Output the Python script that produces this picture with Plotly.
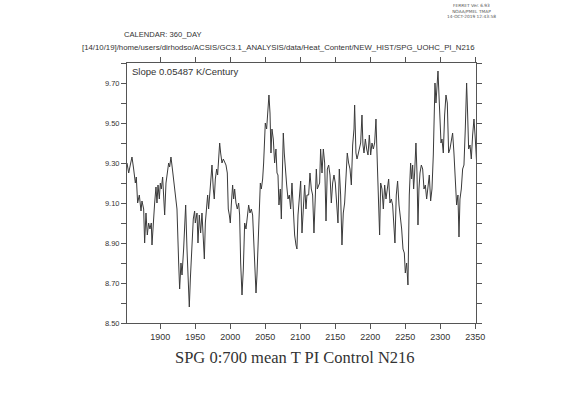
import plotly.graph_objects as go

years = [1852.4, 1854.8, 1857.1, 1859.5, 1861.9, 1864.3, 1865.7, 1867.6, 1870.0, 1872.4,
         1873.8, 1876.2, 1877.6, 1879.5, 1881.4, 1883.3, 1885.2, 1887.1, 1888.1, 1890.5,
         1891.9, 1893.8, 1895.2, 1896.7, 1898.6, 1900.0, 1901.4, 1903.3, 1904.8, 1906.2,
         1908.1, 1909.5, 1911.9, 1913.3, 1915.2, 1917.6, 1919.5, 1921.4, 1923.8, 1926.2,
         1927.6, 1929.5, 1931.0, 1933.3, 1934.8, 1936.2, 1938.1, 1940.0, 1941.4, 1942.9,
         1945.2, 1947.1, 1949.0,
         1950.0, 1952.4, 1953.8, 1955.7, 1957.6, 1959.5, 1961.4, 1962.9, 1964.3, 1966.2,
         1967.6, 1969.0, 1971.0, 1972.4, 1973.8, 1975.7, 1977.1, 1978.6, 1980.5, 1981.9,
         1983.3, 1984.8, 1986.2, 1988.1, 1990.0, 1991.9, 1993.8, 1995.7, 1997.1, 1998.6,
         2000.0, 2001.4, 2003.3, 2004.8, 2006.2, 2008.1, 2010.0, 2011.9, 2013.3, 2014.8,
         2016.7, 2018.6, 2020.5, 2022.4, 2024.3, 2026.2, 2028.1, 2030.0, 2031.9, 2033.3,
         2034.8, 2036.7, 2038.1, 2039.5, 2041.4, 2042.9, 2044.3, 2046.2, 2047.6, 2049.0,
         2050.0, 2051.9, 2053.8, 2055.2, 2056.7, 2058.1, 2059.5, 2061.4, 2063.3, 2065.2,
         2066.7, 2068.1, 2069.5, 2071.4, 2072.9, 2074.3, 2075.7, 2077.1, 2078.6, 2080.5,
         2082.4, 2084.3, 2086.2, 2088.1, 2090.0, 2091.9, 2093.8, 2095.2, 2096.7, 2098.6,
         2100.5, 2102.4, 2104.3, 2106.2, 2108.1, 2109.5, 2111.9, 2113.8, 2115.7, 2117.6,
         2119.5, 2121.4, 2122.9, 2124.3, 2126.2, 2127.6, 2129.0, 2131.0, 2132.9, 2134.8,
         2136.7, 2138.6, 2140.5, 2142.4, 2144.3, 2146.2, 2148.1,
         2150.0, 2151.9, 2153.8, 2155.7, 2157.6, 2159.5, 2161.4, 2163.3, 2165.2, 2167.1,
         2169.0, 2171.0, 2172.9, 2174.8, 2176.7, 2177.6, 2179.5, 2181.0, 2182.4, 2184.3,
         2186.2, 2188.1, 2189.5, 2191.0, 2192.9, 2194.8, 2196.7, 2198.6, 2200.5, 2202.4,
         2204.3, 2206.2, 2208.1, 2210.0, 2211.9, 2213.3, 2214.8, 2216.7, 2218.6, 2220.5,
         2222.4, 2224.3, 2226.2, 2228.1, 2230.0, 2231.9, 2233.8, 2235.2, 2237.1, 2239.0,
         2241.0, 2242.9, 2244.8, 2246.7, 2248.6,
         2250.0, 2251.9, 2253.8, 2254.8, 2255.7, 2257.6, 2259.0, 2260.5, 2261.9, 2263.3,
         2265.2, 2266.7, 2268.1, 2269.5, 2271.0, 2272.9, 2274.8, 2276.7, 2278.6, 2280.5,
         2282.4, 2284.3, 2286.2, 2288.1, 2290.0, 2291.0, 2292.4, 2293.8, 2295.2, 2296.7,
         2298.1, 2299.5, 2301.0, 2302.4, 2304.3, 2306.2, 2308.1, 2310.0, 2311.9, 2313.8,
         2315.7, 2317.6, 2319.5, 2321.4, 2323.3, 2325.2, 2326.7, 2328.1, 2330.0, 2331.9,
         2333.8, 2335.7, 2337.6, 2339.0, 2340.5, 2342.4, 2344.3, 2346.2, 2348.1, 2350.0,
         2351.9]

temps = [9.30, 9.25, 9.29, 9.33, 9.27, 9.20, 9.23, 9.10, 9.14, 9.06,
         9.11, 9.07, 8.90, 9.05, 8.94, 9.00, 8.97, 9.00, 8.89, 9.07,
         9.10, 9.18, 9.10, 9.19, 9.12, 9.20, 9.17, 9.23, 9.14, 9.04,
         9.20, 9.25, 9.30, 9.28, 9.33, 9.26, 9.21, 9.16, 9.07, 8.80,
         8.67, 8.80, 8.74, 8.87, 9.02, 9.09, 8.87, 8.72, 8.58, 8.72,
         8.92, 9.02, 9.06,
         9.00, 9.05, 8.90, 9.04, 8.95, 9.05, 8.92, 8.82, 9.00, 9.10,
         9.14, 9.07, 9.17, 9.27, 9.29, 9.17, 9.12, 9.22, 9.27, 9.24,
         9.34, 9.40, 9.35, 9.30, 9.32, 9.30, 9.29, 9.25, 9.07, 9.04,
         9.00, 9.09, 9.19, 9.12, 9.17, 9.10, 9.07, 9.10, 9.04, 8.80,
         8.64, 8.77, 9.00, 8.97, 9.04, 9.09, 9.05, 9.07, 9.04, 8.94,
         8.77, 8.65, 8.74, 8.87, 9.07, 9.20, 9.17, 9.22, 9.30, 9.39,
         9.50, 9.47, 9.59, 9.64, 9.55, 9.35, 9.47, 9.42, 9.30, 9.37,
         9.25, 9.24, 9.09, 9.17, 9.02, 9.30, 9.45, 9.35, 9.25, 9.19,
         9.12, 9.14, 9.07, 9.20, 9.07, 8.94, 8.89, 8.87, 9.04, 9.14,
         9.21, 8.95, 9.10, 9.19, 9.07, 9.14, 9.14, 9.25, 9.17, 9.14,
         8.95, 9.19, 9.27, 9.17, 9.19, 9.20, 9.37, 9.25, 9.37, 9.30,
         9.01, 9.27, 9.29, 9.24, 9.10, 9.20, 9.24,
         9.20, 9.10, 9.00, 9.27, 9.14, 8.89, 9.05, 9.10, 9.24, 9.35,
         9.30, 9.27, 9.19, 9.39, 9.47, 9.59, 9.35, 9.32, 9.34, 9.37,
         9.40, 9.54, 9.39, 9.35, 9.42, 9.37, 9.34, 9.44, 9.34, 9.40,
         9.37, 9.40, 9.52, 9.30, 9.10, 8.94, 9.20, 9.17, 9.07, 9.19,
         9.12, 9.17, 9.22, 9.10, 9.12, 9.09, 8.97, 8.90, 9.14, 9.21,
         9.09, 9.04, 8.97, 8.87, 8.85,
         8.75, 8.80, 8.69, 8.92, 9.14, 9.30, 9.22, 9.29, 9.17, 9.25,
         9.40, 9.25, 8.99, 9.17, 9.25, 9.29, 9.27, 9.17, 9.19, 9.12,
         9.17, 9.24, 9.11, 9.17, 9.34, 9.55, 9.70, 9.60, 9.67, 9.76,
         9.64, 9.47, 9.40, 9.42, 9.35, 9.54, 9.64, 9.60, 9.35, 9.37,
         9.42, 9.45, 9.35, 9.19, 9.09, 9.14, 8.93, 9.12, 9.17, 9.27,
         9.29, 9.47, 9.70, 9.55, 9.37, 9.39, 9.32, 9.44, 9.52, 9.42,
         9.30]

y_tickvals = [8.5, 8.7, 8.9, 9.1, 9.3, 9.5, 9.7]
y_ticktext = ["8.50", "8.70", "8.90", "9.10", "9.30", "9.50", "9.70"]
x_tickvals = [1900, 1950, 2000, 2050, 2100, 2150, 2200, 2250, 2300, 2350]

title_text = "SPG 0:700 mean T PI Control N216"
slope_text = "Slope 0.05487 K/Century"
calendar_text = "CALENDAR: 360_DAY"
path_text = "[14/10/19]/home/users/dirhodso/ACSIS/GC3.1_ANALYSIS/data/Heat_Content/NEW_HIST/SPG_UOHC_PI_N216"
ferret_lines = ["FERRET Ver. 6.93", "NOAA/PMEL TMAP", "14-OCT-2019 12:43:58"]

fig = go.Figure()
fig.add_trace(go.Scatter(x=years, y=temps, mode="lines",
                         line=dict(color="#3a3a3a", width=1), showlegend=False,
                         hoverinfo="skip"))

axis_common = dict(showgrid=False, zeroline=False, showline=True, linecolor="#555555",
                   linewidth=1, mirror="ticks", ticks="outside", ticklen=5,
                   tickcolor="#555555", tickwidth=1)

fig.update_layout(
    width=561, height=397,
    margin=dict(l=127, r=85, t=63, b=74, pad=0),
    paper_bgcolor="white", plot_bgcolor="white",
    hovermode=False,
    xaxis=dict(range=[1852.4, 2351], tickvals=x_tickvals,
               tickfont=dict(family="Liberation Sans", size=9, color="#333333"),
               **axis_common),
    yaxis=dict(range=[8.5, 9.8], tickvals=y_tickvals, ticktext=y_ticktext,
               minor=dict(dtick=0.1, tick0=8.5, ticks="outside", ticklen=5,
                          tickcolor="#555555", tickwidth=1),
               tickfont=dict(family="Liberation Sans", size=7.5, color="#333333"),
               **axis_common),
)

fig.add_annotation(text=slope_text, xref="paper", yref="paper", x=0.009, y=0.969,
                   xanchor="left", yanchor="middle", showarrow=False,
                   font=dict(family="Liberation Sans", size=9.5, color="#333333"))
fig.add_annotation(text=calendar_text, xref="paper", yref="paper", x=-0.014, y=1.1115,
                   xanchor="left", yanchor="middle", showarrow=False,
                   font=dict(family="Liberation Sans", size=7.6, color="#333333"))
fig.add_annotation(text=path_text, xref="paper", yref="paper", x=-0.135, y=1.0596,
                   xanchor="left", yanchor="middle", showarrow=False,
                   font=dict(family="Liberation Sans", size=7.8, color="#333333"))
fig.add_annotation(text="<br>".join(ferret_lines), xref="paper", yref="paper",
                   x=0.986, y=1.2019, xanchor="center", yanchor="middle",
                   showarrow=False, align="center",
                   font=dict(family="DejaVu Sans", size=4.3, color="#555555"))
fig.add_annotation(text=title_text, xref="paper", yref="paper", x=0.481, y=-0.1346,
                   xanchor="center", yanchor="middle", showarrow=False,
                   font=dict(family="Liberation Serif", size=16.5, color="#333333"))

fig.write_html("out.html", config={"displayModeBar": False},
               post_script="document.body.style.margin='0';document.body.style.overflow='hidden';")
